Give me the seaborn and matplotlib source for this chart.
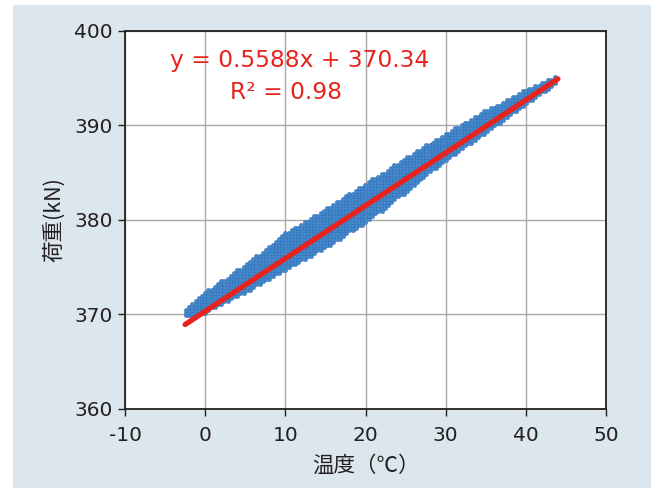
import numpy as np
import pandas as pd
import matplotlib
matplotlib.use("Agg")
import matplotlib.pyplot as plt
from matplotlib.patches import Rectangle
from matplotlib.ticker import MultipleLocator
import seaborn as sns

# données : bord bas / haut du nuage de points
temp_pts = [-2.4, 0, 5, 10, 15, 20, 25, 30, 35, 40, 43.8]
charge_bas = [369.7, 370.2, 372.3, 374.7, 377.0, 379.7, 382.9, 386.3, 389.2, 392.2, 394.4]
charge_haut = [370.6, 372.4, 375.3, 378.6, 381.2, 383.9, 386.6, 389.2, 391.6, 393.8, 395.3]

# droite de régression (extrémités)
droite_temp = [-2.5, 44.0]
droite_charge = [368.94, 394.93]
equation = "y = 0.5588x + 370.34"
r2_texte = "R² = 0.98"

# résolution des mesures (pas de la grille des points)
pas_temp = 0.4
pas_charge = 0.3

# construction du nuage à partir des bords lus
xs, ys = [], []
for t in np.arange(temp_pts[0], temp_pts[-1] + 1e-9, pas_temp):
    lo = np.interp(t, temp_pts, charge_bas)
    hi = np.interp(t, temp_pts, charge_haut)
    for c in np.arange(np.floor(lo / pas_charge) * pas_charge, hi + 1e-9, pas_charge):
        if c >= lo - 1e-9:
            xs.append(t)
            ys.append(c)
df = pd.DataFrame({"temp": xs, "charge": ys})

sns.set_style("white")
plt.rcParams['font.family'] = ['DejaVu Sans', 'Noto Sans CJK JP']
plt.rcParams['axes.unicode_minus'] = False
police_jp = ['Noto Sans CJK JP', 'DejaVu Sans']

fig = plt.figure(figsize=(6.57, 4.88), dpi=100)
fond = Rectangle((13 / 657, 0), 638 / 657, 483 / 488, transform=fig.transFigure,
                 facecolor="#dce6ed", edgecolor="none", zorder=-10)
fig.add_artist(fond)
ax = fig.add_axes([125 / 657, 79 / 488, 481 / 657, 378 / 488])
ax.set_zorder(1)
ax.set_facecolor("white")

sns.scatterplot(data=df, x="temp", y="charge", ax=ax, s=10, color="#4589cc",
                edgecolor="#2f6fb3", linewidth=0.3, zorder=3, legend=False)
sns.lineplot(x=droite_temp, y=droite_charge, ax=ax, color="#e8221d", linewidth=3.8,
             zorder=4, solid_capstyle="round")

ax.set_xlim(-10, 50)
ax.set_ylim(360, 400)
ax.xaxis.set_major_locator(MultipleLocator(10))
ax.yaxis.set_major_locator(MultipleLocator(10))
ax.yaxis.set_minor_locator(MultipleLocator(5))
ax.grid(True, which="major", color="#a8a8a8", linewidth=1.0, zorder=0)
ax.set_axisbelow(True)
for sp in ax.spines.values():
    sp.set_color("#231f20")
    sp.set_linewidth(1.3)
ax.tick_params(axis="both", which="major", direction="out", length=5, width=1,
               color="#231f20", labelsize=14.5, labelcolor="#231f20")
ax.tick_params(axis="x", which="major", pad=7)
ax.tick_params(axis="y", which="major", pad=4)
ax.tick_params(axis="y", which="minor", direction="out", length=5, width=1, color="#231f20")
ax.tick_params(left=True, bottom=True)

ax.set_xlabel("温度（℃）", fontsize=15.5, color="#231f20", labelpad=7, family=police_jp)
ax.set_ylabel("荷重(kN)", fontsize=15.5, color="#231f20", labelpad=6, family=police_jp)

ax.text(0.363, 0.923, equation, transform=ax.transAxes, ha="center", va="center",
        fontsize=16.8, color="#e8221d")
ax.text(0.335, 0.837, r2_texte, transform=ax.transAxes, ha="center", va="center",
        fontsize=16.8, color="#e8221d")

fig.savefig("out.png", dpi=100)
